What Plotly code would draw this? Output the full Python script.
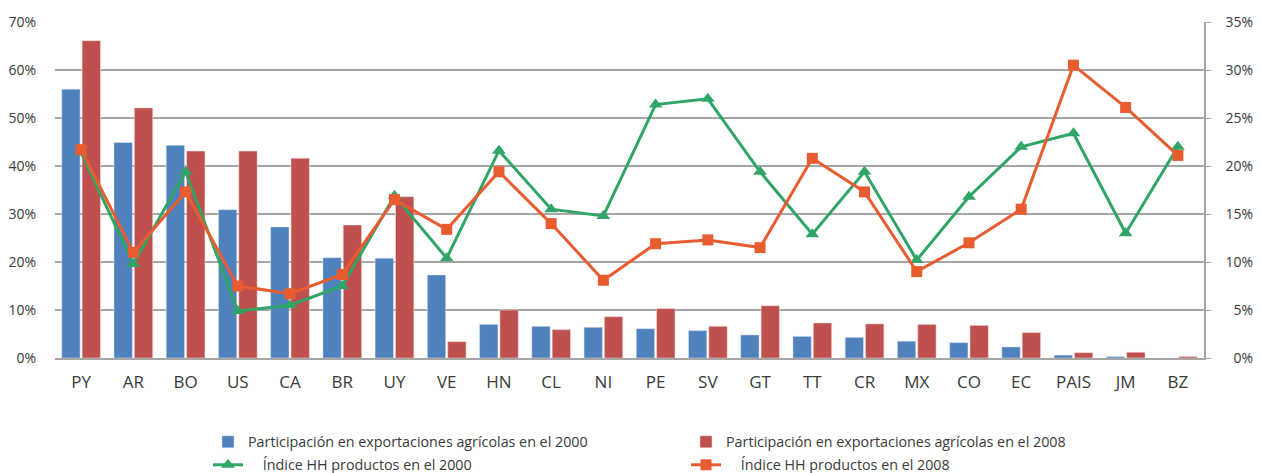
import plotly.graph_objects as go

paises = ['PY', 'AR', 'BO', 'US', 'CA', 'BR', 'UY', 'VE', 'HN', 'CL', 'NI', 'PE',
          'SV', 'GT', 'TT', 'CR', 'MX', 'CO', 'EC', 'PAIS', 'JM', 'BZ']

# participacion en exportaciones agricolas (eje izquierdo)
part_2000 = [0.560, 0.449, 0.443, 0.309, 0.273, 0.209, 0.208, 0.173, 0.070, 0.066, 0.064,
             0.061, 0.057, 0.048, 0.045, 0.043, 0.035, 0.032, 0.023, 0.006, 0.003, -0.003]
part_2008 = [0.661, 0.521, 0.431, 0.431, 0.416, 0.277, 0.336, 0.034, 0.100, 0.059, 0.086,
             0.103, 0.066, 0.109, 0.073, 0.071, 0.070, 0.068, 0.053, 0.011, 0.012, 0.003]

# indice HH productos (eje derecho)
hh_2000 = [0.214, 0.098, 0.194, 0.049, 0.055, 0.075, 0.169, 0.104, 0.216, 0.155, 0.148,
           0.264, 0.270, 0.194, 0.129, 0.194, 0.102, 0.168, 0.220, 0.234, 0.130, 0.220]
hh_2008 = [0.217, 0.110, 0.173, 0.075, 0.067, 0.087, 0.165, 0.134, 0.194, 0.140, 0.081,
           0.119, 0.123, 0.115, 0.208, 0.173, 0.090, 0.120, 0.155, 0.305, 0.261, 0.211]

y2_vals = [0, 0.05, 0.10, 0.15, 0.20, 0.25, 0.30, 0.35]
y2_text = ['\u20070%', '\u20075%', '10%', '15%', '20%', '25%', '30%', '35%']

grid = '#a6a6a6'
txt = '#3a3a3a'
sp = '\u00a0' * 4

# page body adds an 8px margin, so the figure is 8px smaller on each side
W, H = 1253, 465

fig = go.Figure()
fig.add_trace(go.Bar(x=paises, y=part_2000, name='Participación en exportaciones agrícolas en el 2000',
                     marker=dict(color='#4f81bd', line=dict(color='#dde6f2', width=0.5))))
fig.add_trace(go.Bar(x=paises, y=part_2008, name='Participación en exportaciones agrícolas en el 2008',
                     marker=dict(color='#c0504d', line=dict(color='#f0dcdc', width=0.5))))
fig.add_trace(go.Scatter(x=paises, y=hh_2000, yaxis='y2', mode='lines+markers', legend='legend2',
                         name=sp + 'Índice HH productos en el 2000',
                         line=dict(color='#30a567', width=3),
                         marker=dict(symbol='triangle-up', size=12, color='#30a567')))
fig.add_trace(go.Scatter(x=paises, y=hh_2008, yaxis='y2', mode='lines+markers', legend='legend2',
                         name=sp + 'Índice HH productos en el 2008',
                         line=dict(color='#e95c2f', width=3),
                         marker=dict(symbol='square', size=11, color='#e95c2f')))

leg = dict(orientation='h', xref='container', yref='container', x=200 / W,
           xanchor='left', yanchor='middle', entrywidth=433, entrywidthmode='pixels',
           font=dict(size=14.3, color=txt), traceorder='normal', bgcolor='rgba(0,0,0,0)')

fig.update_layout(width=W, height=H,
                  margin=dict(l=47, r=57, t=14, b=115, autoexpand=False),
                  plot_bgcolor='white', paper_bgcolor='white',
                  font=dict(family='Open Sans', color=txt, size=14),
                  barmode='group', bargap=0.22, bargroupgap=0.1,
                  showlegend=True,
                  legend=dict(leg, y=1 - 434 / H),
                  legend2=dict(leg, y=1 - 457 / H),
                  xaxis=dict(range=[-0.5, 21.5], showline=True, linecolor=grid, linewidth=1.5,
                             tickfont=dict(size=17, color=txt), ticks='', showgrid=False,
                             automargin=False, ticklabelstandoff=8),
                  yaxis=dict(range=[0, 0.7], dtick=0.1, tickformat='.0%', showgrid=True,
                             gridcolor=grid, gridwidth=1.5, zeroline=False, automargin=False,
                             tickfont=dict(size=14, color=txt), ticklabelstandoff=18),
                  yaxis2=dict(range=[0, 0.35], tickvals=y2_vals, ticktext=y2_text,
                              overlaying='y', side='right', showgrid=False, zeroline=False,
                              showline=True, linecolor=grid, linewidth=1.5, ticks='outside',
                              ticklen=5, tickcolor=grid, automargin=False,
                              tickfont=dict(size=14, color=txt), ticklabelstandoff=12))

fig.write_html('out.html')
